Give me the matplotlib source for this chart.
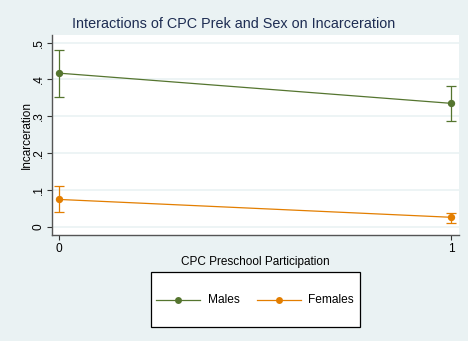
import matplotlib
matplotlib.use("Agg")
import matplotlib.pyplot as plt
from matplotlib.lines import Line2D
from matplotlib.patches import Rectangle

plt.rcParams['font.family'] = ['Liberation Sans', 'DejaVu Sans']

# Predicted incarceration by CPC preschool participation and sex
participation = [0, 1]
males = [0.417, 0.335]
males_lo = [0.352, 0.288]
males_hi = [0.481, 0.381]
females = [0.074, 0.0255]
females_lo = [0.039, 0.011]
females_hi = [0.110, 0.038]
yticks = [0, 0.1, 0.2, 0.3, 0.4, 0.5]
ytick_labels = ['0', '.1', '.2', '.3', '.4', '.5']
series_names = ['Males', 'Females']

bg = '#EAF2F3'
green = '#55752F'
orange = '#E37E00'

fig = plt.figure(figsize=(4.68, 3.41), dpi=100, facecolor=bg)
W, H = 468, 341
ax = fig.add_axes([52 / W, 1 - 235 / H, (459 - 52) / W, (235 - 34.5) / H])
ax.set_facecolor('white')

for vals, lo, hi, col in [(males, males_lo, males_hi, green),
                          (females, females_lo, females_hi, orange)]:
    ax.plot(participation, vals, color=col, lw=0.9, zorder=3)
    ax.scatter(participation, vals, color=col, s=28, zorder=4, linewidths=0)
    yerr = [[v - l for v, l in zip(vals, lo)], [h - v for v, h in zip(vals, hi)]]
    ax.errorbar(participation, vals, yerr=yerr, fmt='none', ecolor=col,
                elinewidth=0.9, capsize=3.5, capthick=0.9, zorder=3)

ax.set_xlim(-0.018, 1.020)
ax.set_ylim(-0.0226, 0.522)
ax.set_xticks(participation)
ax.set_xticklabels(['0', '1'])
ax.set_yticks(yticks)
ax.set_yticklabels(ytick_labels, rotation=90, va='center')
ax.grid(axis='y', color=bg, lw=1.2, zorder=0)
ax.set_axisbelow(True)
for s in ['top', 'right']:
    ax.spines[s].set_visible(False)
for s in ['left', 'bottom']:
    ax.spines[s].set_color('#555555')
    ax.spines[s].set_linewidth(1.0)
ax.tick_params(axis='both', colors='#333333', labelcolor='black', labelsize=8.6,
               length=3.6, width=0.8, pad=1.8)

ax.set_xlabel('CPC Preschool Participation', fontsize=8.5, labelpad=1)
ax.set_ylabel('Incarceration', fontsize=8.5, labelpad=-0.5)

fig.text(234 / W, 1 - 24 / H, 'Interactions of CPC Prek and Sex on Incarceration',
         ha='center', va='center', fontsize=10.4, color='#1E2D53')

# Legend box drawn in figure pixel coordinates
def fx(px):
    return px / W

def fy(py):
    return 1 - py / H

fig.patches.append(Rectangle((fx(151), fy(327)), fx(360) - fx(151), fy(272) - fy(327),
                             transform=fig.transFigure, facecolor='white',
                             edgecolor='black', lw=0.9, zorder=1))
ly = 300
for (x0, x1, tx), col, name in zip([(156, 200, 208), (257, 301, 308)],
                                   [green, orange], series_names):
    fig.add_artist(Line2D([fx(x0), fx(x1)], [fy(ly), fy(ly)], color=col, lw=0.9,
                          transform=fig.transFigure, zorder=2))
    fig.add_artist(Line2D([fx((x0 + x1) / 2)], [fy(ly)], color=col, marker='o',
                          markersize=5, markeredgewidth=0,
                          transform=fig.transFigure, zorder=3))
    fig.text(fx(tx), fy(ly), name, ha='left', va='center', fontsize=8.6, zorder=3)

fig.savefig('out.png', dpi=100, facecolor=bg)
